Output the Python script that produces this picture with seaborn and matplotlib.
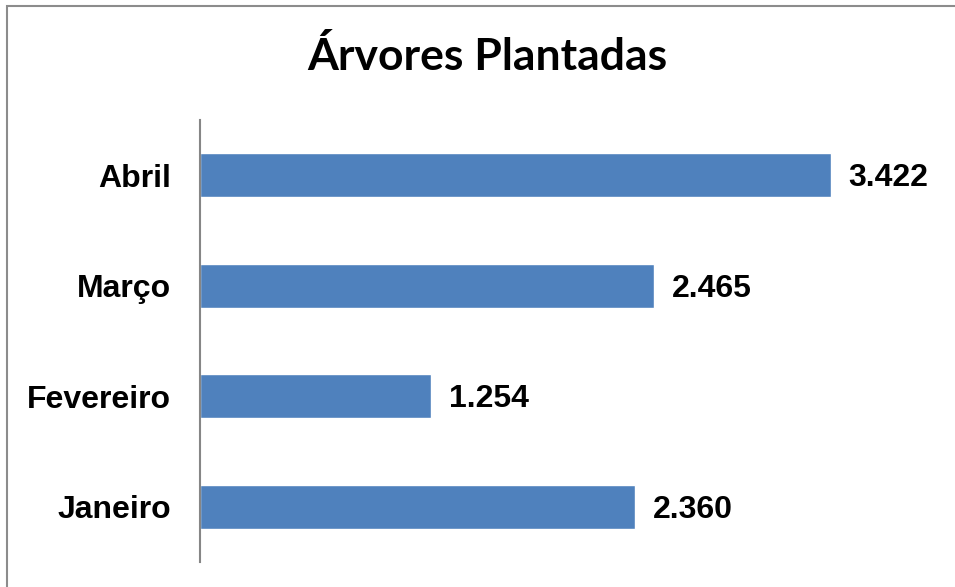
import pandas as pd
import matplotlib.pyplot as plt
import seaborn as sns
from matplotlib.patches import Rectangle

meses = ['Abril', 'Março', 'Fevereiro', 'Janeiro']
arvores = [3422, 2465, 1254, 2360]

df = pd.DataFrame({'mes': meses, 'arvores': arvores})

sns.set_theme(style='white')
plt.rcParams['font.family'] = ['Liberation Sans', 'DejaVu Sans']

fig = plt.figure(figsize=(9.55, 5.87), dpi=100)
ax = fig.add_axes([200 / 955, 1 - 562 / 587, 737 / 955, 442 / 587])

sns.barplot(data=df, x='arvores', y='mes', order=meses, color='#4F81BD',
            saturation=1, width=0.4, ax=ax)

# rótulos de valor com separador de milhar "."
for p, v in zip(ax.patches, arvores):
    ax.annotate(f'{v:,}'.replace(',', '.'),
                (p.get_width(), p.get_y() + p.get_height() / 2),
                xytext=(13, -2), textcoords='offset points',
                ha='left', va='center', fontsize=23, fontweight='bold', color='black')

ax.set_xlim(0, 4000)
ax.set_xlabel('')
ax.set_ylabel('')
ax.set_xticks([])
ax.tick_params(axis='y', length=0, pad=21)
for lab in ax.get_yticklabels():
    lab.set_fontsize(23)
    lab.set_fontweight('bold')
    lab.set_color('black')
for s in ['top', 'right', 'bottom']:
    ax.spines[s].set_visible(False)
ax.spines['left'].set_color('#868686')
ax.spines['left'].set_linewidth(1.5)

fig.text(487 / 955, 1 - 57 / 587, 'Árvores Plantadas', ha='center', va='center',
         fontsize=32, fontweight='bold', color='black', family=['Lato', 'DejaVu Sans'])

fig.patches.append(Rectangle((7 / 955, -0.05), 1.0, 1 - 6 / 587 + 0.05,
                             transform=fig.transFigure, fill=False,
                             edgecolor='#8c8c8c', linewidth=1.5))

fig.savefig('out.png', dpi=100)
